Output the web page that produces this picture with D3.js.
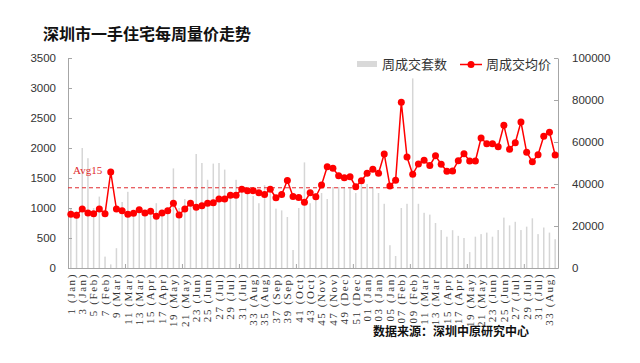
<!DOCTYPE html>
<html>
<head>
<meta charset="utf-8">
<script src="https://cdn.jsdelivr.net/npm/d3@7"></script>
<style>
  body { margin: 0; background: #fff; }
  svg { display: block; }
</style>
</head>
<body>
<div id="chart"></div>
<script>
const tickLabels = [
  '1 (Jan)', '3 (Jan)', '5 (Feb)', '7 (Feb)', '9 (Mar)', '11 (Mar)', '13 (Mar)', '15 (Apr)',
  '17 (Apr)', '19 (May)', '21 (May)', '23 (Jun)', '25 (Jun)', '27 (Jul)', '29 (Jul)', '31 (Jul)',
  '33 (Aug)', '35 (Aug)', '37 (Sep)', '39 (Sep)', '41 (Oct)', '43 (Oct)', '45 (Nov)', '47 (Nov)',
  '49 (Dec)', '51 (Dec)', '01 (Jan)', '03 (Jan)', '05 (Jan)', '07 (Feb)', '09 (Feb)', '11 (Mar)',
  '13 (Mar)', '15 (Apr)', '17 (Apr)', '19 (May)', '21 (May)', '23 (Jun)', '25 (Jun)', '27 (Jul)',
  '29 (Jul)', '31 (Jul)', '33 (Aug)'
];

// 周成交套数 (left axis)
const unitsSold = [
  1000, 950, 2000, 1830, 1000, 1190, 190, 60, 330, 1100,
  1270, 950, 1000, 900, 950, 1080, 900, 1000, 1660, 1000,
  1150, 1100, 1900, 1750, 1470, 1740, 1750, 1640, 1250, 1470,
  1300, 1250, 1200, 1080, 1380, 1250, 990, 960, 850, 300,
  1000, 1760, 1080, 1250, 1250, 1150, 1350, 1350, 1350, 1350,
  1250, 1450, 1400, 1350, 1250, 1070, 380, 200, 1000, 1070,
  3160, 1070, 920, 890, 750, 633, 522, 630, 536, 500,
  265, 522, 565, 590, 522, 633, 840, 710, 770, 633,
  689, 828, 565, 675, 590, 480
];

// 周成交均价 (right axis)
const avgPrice = [
  25570, 25100, 28100, 26190, 25860, 28100, 25860, 45710, 28100, 27290,
  25570, 26050, 27760, 26190, 27000, 24620, 26190, 27290, 30810, 25240,
  28100, 30810, 28950, 29670, 30810, 31100, 32860, 32860, 34670, 34670,
  37520, 36810, 36810, 35860, 35000, 37520, 33480, 35000, 41670, 34050,
  33570, 31290, 35810, 33950, 39520, 48240, 47480, 43950, 43000, 43480,
  38710, 41570, 45100, 47000, 45100, 54290, 39050, 41760, 78900, 52860,
  44620, 49520, 51290, 48810, 53430, 49430, 46050, 46190, 51100, 54430,
  50950, 50950, 61900, 59190, 59190, 57760, 67950, 56520, 59670, 69520,
  55100, 50620, 53950, 62710, 64620, 53810
];

const avg15 = 38200;
const leftTicks = [0, 500, 1000, 1500, 2000, 2500, 3000, 3500];
const rightTicks = [0, 20000, 40000, 60000, 80000, 100000];

const width = 640;
const height = 363;
const plot = {left: 68, right: 558, top: 58, bottom: 268};

const svg = d3.select('#chart').append('svg')
  .attr('width', width)
  .attr('height', height)
  .style('font-family', '"Liberation Sans", Arial, sans-serif');

const x = d3.scaleBand()
  .domain(d3.range(avgPrice.length))
  .range([plot.left, plot.right]);
const xEdge = d3.scaleLinear()
  .domain([0, avgPrice.length])
  .range([plot.left, plot.right]);
const yLeft = d3.scaleLinear().domain([0, 3500]).range([plot.bottom, plot.top]);
const yRight = d3.scaleLinear().domain([0, 100000]).range([plot.bottom, plot.top]);

// title
svg.append('text')
  .attr('x', 43)
  .attr('y', 40)
  .style('font-family', '"Noto Sans CJK SC", sans-serif')
  .style('font-size', '16px')
  .style('font-weight', 'bold')
  .attr('fill', '#111')
  .text('深圳市一手住宅每周量价走势');

// bars
svg.append('g').selectAll('rect')
  .data(unitsSold)
  .enter()
  .append('rect')
  .attr('x', (d, i) => x(i) + x.bandwidth() / 2 - 0.75)
  .attr('y', d => yLeft(d))
  .attr('width', 1.5)
  .attr('height', d => plot.bottom - yLeft(d))
  .attr('fill', '#d6d6d6');

// axes
const axisColor = '#a6a6a6';

const leftAxis = svg.append('g')
  .attr('transform', 'translate(' + plot.left + ',0)')
  .call(d3.axisLeft(yLeft).tickValues(leftTicks).tickFormat(d3.format('d'))
    .tickSizeInner(-4).tickSizeOuter(0).tickPadding(12));

const rightAxis = svg.append('g')
  .attr('transform', 'translate(' + plot.right + ',0)')
  .call(d3.axisRight(yRight).tickValues(rightTicks).tickFormat(d3.format('d'))
    .tickSizeInner(-4).tickSizeOuter(0).tickPadding(14));

const bottomTicks = svg.append('g')
  .attr('transform', 'translate(0,' + plot.bottom + ')')
  .call(d3.axisBottom(xEdge).tickValues([10, 20, 30, 40, 50, 60, 70, 80])
    .tickSizeInner(-4).tickSizeOuter(0).tickFormat(''));

const bottomLabels = svg.append('g')
  .attr('transform', 'translate(0,' + plot.bottom + ')')
  .call(d3.axisBottom(x)
    .tickValues(tickLabels.map((t, i) => i * 2))
    .tickSize(0)
    .tickFormat(i => tickLabels[i / 2]));

bottomLabels.select('.domain').remove();
bottomLabels.selectAll('text')
  .attr('transform', 'rotate(-90)')
  .attr('x', -5)
  .attr('y', 0)
  .attr('dy', '0.35em')
  .style('text-anchor', 'end')
  .style('font-family', '"Liberation Serif", "DejaVu Serif", serif')
  .style('font-size', '11px')
  .style('letter-spacing', '1.6px')
  .attr('fill', '#333');

[leftAxis, rightAxis, bottomTicks].forEach(g => {
  g.select('.domain').attr('stroke', axisColor);
  g.selectAll('.tick line').attr('stroke', axisColor);
  g.selectAll('text')
    .style('font-size', '11.5px')
    .attr('fill', '#333');
});

// average line
svg.append('line')
  .attr('x1', plot.left)
  .attr('x2', plot.right)
  .attr('y1', yRight(avg15))
  .attr('y2', yRight(avg15))
  .attr('stroke', '#e0292e')
  .attr('stroke-width', 1)
  .attr('stroke-dasharray', '4,3');

svg.append('text')
  .attr('x', 73)
  .attr('y', yRight(avg15) - 14)
  .style('font-family', '"Liberation Serif", serif')
  .style('font-size', '11px')
  .attr('fill', '#e0292e')
  .text('Avg15');

// price line
const line = d3.line()
  .x((d, i) => x(i) + x.bandwidth() / 2)
  .y(d => yRight(d));

svg.append('path')
  .datum(avgPrice)
  .attr('d', line)
  .attr('fill', 'none')
  .attr('stroke', '#f00')
  .attr('stroke-width', 1.5);

svg.append('g').selectAll('circle')
  .data(avgPrice)
  .enter()
  .append('circle')
  .attr('cx', (d, i) => x(i) + x.bandwidth() / 2)
  .attr('cy', d => yRight(d))
  .attr('r', 3.5)
  .attr('fill', '#f00');

// legend
const legend = svg.append('g')
  .style('font-family', '"Noto Sans CJK SC", sans-serif')
  .style('font-size', '13px');

legend.append('rect')
  .attr('x', 357).attr('y', 61)
  .attr('width', 20).attr('height', 6)
  .attr('fill', '#d9d9d9');
legend.append('text')
  .attr('x', 382).attr('y', 68.5)
  .attr('fill', '#333')
  .text('周成交套数');
legend.append('line')
  .attr('x1', 460).attr('x2', 482)
  .attr('y1', 64.5).attr('y2', 64.5)
  .attr('stroke', '#f00').attr('stroke-width', 1.5);
legend.append('circle')
  .attr('cx', 471).attr('cy', 64.5).attr('r', 3.5)
  .attr('fill', '#f00');
legend.append('text')
  .attr('x', 486).attr('y', 68.5)
  .attr('fill', '#333')
  .text('周成交均价');

// source
svg.append('text')
  .attr('x', 373)
  .attr('y', 336)
  .style('font-family', '"Noto Sans CJK SC", sans-serif')
  .style('font-size', '12px')
  .style('font-weight', 'bold')
  .attr('fill', '#111')
  .text('数据来源：深圳中原研究中心');
</script>
</body>
</html>
